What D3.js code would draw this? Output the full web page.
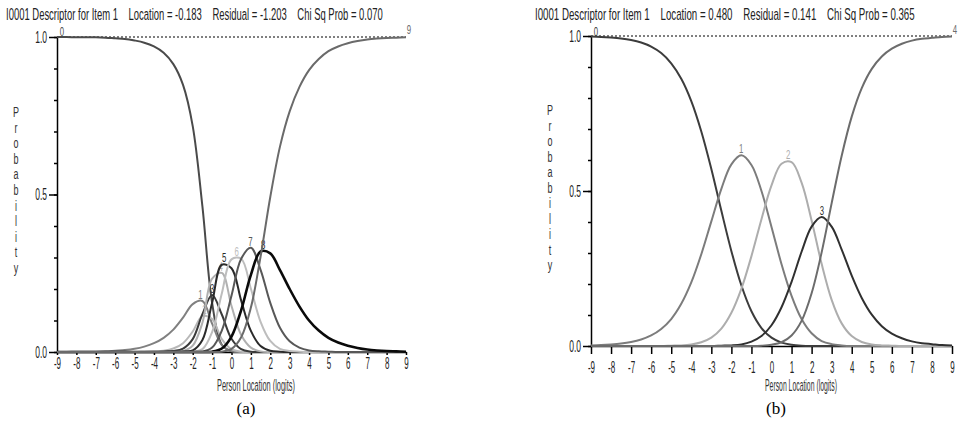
<!DOCTYPE html>
<html>
<head>
<meta charset="utf-8">
<script src="https://cdn.jsdelivr.net/npm/d3@7"></script>
<style>
  body { margin: 0; background: #fff; }
  text { font-family: "Liberation Sans", Arial, sans-serif; }
</style>
</head>
<body>
<div id="chart"></div>
<script>
// person location grid (logits)
var theta = [-9,-8.5,-8,-7.5,-7,-6.5,-6,-5.5,-5,-4.5,-4,-3.5,-3,-2.5,-2,-1.5,-1,-0.5,0,
             0.5,1,1.5,2,2.5,3,3.5,4,4.5,5,5.5,6,6.5,7,7.5,8,8.5,9];
var xTicks = [-9,-8,-7,-6,-5,-4,-3,-2,-1,0,1,2,3,4,5,6,7,8,9];
var yMinor = [0,0.1,0.2,0.3,0.4,0.5,0.6,0.7,0.8,0.9,1];
var yMajor = [0,0.5,1];

// (a) category probabilities, categories 0..9
var catsA = ["0","1","2","3","4","5","6","7","8","9"];
var a0 = [1,1,0.999,0.999,0.999,0.998,0.996,0.994,0.989,0.982,0.970,0.950,0.914,0.848,0.717,0.462,0.156,0.023,0.002,0,0,0,0,0,0,0,0,0,0,0,0,0,0,0,0,0,0];
var a1 = [0,0,0.001,0.001,0.001,0.002,0.004,0.006,0.010,0.017,0.028,0.045,0.071,0.109,0.152,0.162,0.090,0.022,0.003,0,0,0,0,0,0,0,0,0,0,0,0,0,0,0,0,0,0];
var a2 = [0,0,0,0,0,0,0,0,0,0.001,0.002,0.004,0.011,0.028,0.065,0.114,0.105,0.041,0.009,0.001,0,0,0,0,0,0,0,0,0,0,0,0,0,0,0,0,0];
var a3 = [0,0,0,0,0,0,0,0,0,0,0,0.001,0.003,0.011,0.041,0.120,0.181,0.119,0.042,0.009,0.001,0,0,0,0,0,0,0,0,0,0,0,0,0,0,0,0];
var a4 = [0,0,0,0,0,0,0,0,0,0,0,0,0.001,0.003,0.020,0.093,0.233,0.251,0.146,0.054,0.014,0.002,0,0,0,0,0,0,0,0,0,0,0,0,0,0,0];
var a5 = [0,0,0,0,0,0,0,0,0,0,0,0,0,0.001,0.005,0.038,0.156,0.277,0.266,0.163,0.067,0.019,0.004,0.001,0,0,0,0,0,0,0,0,0,0,0,0,0];
var a6 = [0,0,0,0,0,0,0,0,0,0,0,0,0,0,0.001,0.009,0.063,0.186,0.294,0.296,0.201,0.096,0.035,0.010,0.003,0.001,0,0,0,0,0,0,0,0,0,0,0];
var a7 = [0,0,0,0,0,0,0,0,0,0,0,0,0,0,0,0.001,0.014,0.068,0.179,0.296,0.331,0.261,0.156,0.077,0.034,0.014,0.005,0.002,0.001,0,0,0,0,0,0,0,0];
var a8 = [0,0,0,0,0,0,0,0,0,0,0,0,0,0,0,0,0.001,0.011,0.049,0.133,0.245,0.319,0.313,0.260,0.200,0.145,0.100,0.068,0.045,0.030,0.020,0.013,0.008,0.005,0.003,0.002,0.001];
var a9 = [0,0,0,0,0,0,0,0,0,0,0,0,0,0,0,0,0,0.001,0.010,0.047,0.141,0.303,0.492,0.652,0.764,0.841,0.895,0.930,0.955,0.970,0.980,0.987,0.992,0.995,0.997,0.998,0.999];

// (b) category probabilities, categories 0..4
var catsB = ["0","1","2","3","4"];
var b0 = [0.998,0.997,0.995,0.992,0.987,0.979,0.966,0.945,0.912,0.862,0.790,0.692,0.571,0.436,0.306,0.195,0.112,0.058,0.027,0.011,0.004,0.001,0,0,0,0,0,0,0,0,0,0,0,0,0,0,0];
var b1 = [0.002,0.003,0.005,0.008,0.013,0.021,0.034,0.055,0.087,0.136,0.205,0.296,0.402,0.507,0.586,0.615,0.584,0.500,0.384,0.264,0.162,0.087,0.041,0.016,0.006,0.002,0,0,0,0,0,0,0,0,0,0,0];
var b2 = [0,0,0,0,0,0,0,0,0.001,0.002,0.005,0.012,0.027,0.056,0.107,0.185,0.290,0.409,0.518,0.588,0.593,0.527,0.405,0.265,0.149,0.073,0.032,0.013,0.005,0.002,0.001,0,0,0,0,0,0];
var b3 = [0,0,0,0,0,0,0,0,0,0,0,0,0,0.001,0.002,0.005,0.014,0.032,0.067,0.125,0.207,0.304,0.385,0.416,0.385,0.311,0.227,0.155,0.101,0.064,0.040,0.025,0.015,0.009,0.006,0.003,0.002];
var b4 = [0,0,0,0,0,0,0,0,0,0,0,0,0,0,0,0,0,0.001,0.004,0.012,0.034,0.081,0.170,0.302,0.461,0.614,0.740,0.832,0.894,0.934,0.959,0.975,0.985,0.991,0.994,0.997,0.998];

var svg = d3.select("#chart")
    .append("svg")
    .attr("width", 960)
    .attr("height", 423);

// squeeze a text horizontally so it spans w pixels
function fit(sel, x, y, w) {
  var nat = sel.node().getComputedTextLength();
  sel.attr("transform", "translate(" + x + "," + y + ") scale(" + (w / nat) + ",1)");
}

var panels = [
  { title: "I0001 Descriptor for Item 1    Location = -0.183    Residual = -1.203    Chi Sq Prob = 0.070",
    titleX: 6, titleW: 377,
    series: [a0,a1,a2,a3,a4,a5,a6,a7,a8,a9], cats: catsA,
    colors: ["#4a4a4a","#808080","#b8b8b8","#3a3a3a","#b0b0b0","#2a2a2a","#bdbdbd","#585858","#0a0a0a","#6a6a6a"],
    x: d3.scaleLinear().domain([-9, 9]).range([57, 406]),
    y: d3.scaleLinear().domain([0, 1]).range([352, 37]),
    tickLen: 3, tickDy: 6,
    letterX: 16, letterY: 117, letterStep: 15.6,
    xtitleX: 217, xtitleW: 78, caption: "(a)", captionX: 246 },
  { title: "I0001 Descriptor for Item 1    Location = 0.480    Residual = 0.141    Chi Sq Prob = 0.365",
    titleX: 535, titleW: 380,
    series: [b0,b1,b2,b3,b4], cats: catsB,
    colors: ["#3c3c3c","#7c7c7c","#adadad","#303030","#6c6c6c"],
    x: d3.scaleLinear().domain([-9, 9]).range([591, 952]),
    y: d3.scaleLinear().domain([0, 1]).range([346, 36]),
    tickLen: 8, tickDy: 16,
    letterX: 550, letterY: 115, letterStep: 15.5,
    xtitleX: 765, xtitleW: 72, caption: "(b)", captionX: 776 }
];

panels.forEach(function(p) {
  var g = svg.append("g");
  var x = p.x, y = p.y;

  var title = g.append("text")
      .style("font-size", "17px")
      .style("white-space", "pre")
      .attr("fill", "#222")
      .text(p.title);
  fit(title, p.titleX, 20, p.titleW);

  // y axis: minor ticks + labelled ticks
  g.append("g")
      .attr("transform", "translate(" + x(-9) + ",0)")
      .call(d3.axisLeft(y).tickValues(yMinor).tickSize(3).tickSizeOuter(0).tickFormat(""));
  var yMaj = g.append("g")
      .attr("transform", "translate(" + x(-9) + ",0)")
      .call(d3.axisLeft(y).tickValues(yMajor).tickSize(8).tickFormat(d3.format(".1f")));
  yMaj.select(".domain").remove();
  yMaj.selectAll("text")
      .attr("x", -20)
      .attr("transform", "scale(0.5,1)")
      .style("font-size", "17px")
      .style("font-family", '"Liberation Sans", Arial, sans-serif')
      .attr("fill", "#222");

  // x axis
  var xAx = g.append("g")
      .attr("transform", "translate(0," + y(0) + ")")
      .call(d3.axisBottom(x).tickValues(xTicks).tickSize(p.tickLen).tickSizeOuter(0)
        .tickFormat(function(d) { return String(d); }));
  xAx.selectAll("text")
      .attr("y", p.tickDy)
      .attr("transform", "scale(0.5,1)")
      .style("font-size", "16px")
      .style("font-family", '"Liberation Sans", Arial, sans-serif')
      .attr("fill", "#222");

  g.selectAll(".domain, .tick line").attr("stroke", "#000").attr("stroke-width", 1.5);

  // dotted line at probability 1
  g.append("line")
      .attr("x1", x(-9)).attr("x2", x(9))
      .attr("y1", y(1)).attr("y2", y(1))
      .attr("stroke", "#000")
      .attr("stroke-width", 1)
      .attr("stroke-dasharray", "2,2");

  var line = d3.line()
      .x(function(d, i) { return x(theta[i]); })
      .y(function(d) { return y(d); })
      .curve(d3.curveCatmullRom.alpha(0.5));

  var n = p.series.length;
  p.series.forEach(function(s, k) {
    var path = g.append("path")
        .attr("d", line(s))
        .attr("fill", "none")
        .attr("stroke", p.colors[k])
        .attr("stroke-width", k == 8 ? 2.6 : 2);

    // category label at the top of its curve
    var node = path.node(), len = node.getTotalLength(), pt, lx, ly;
    if (k == 0) {
      pt = node.getPointAtLength(0); lx = pt.x + 5; ly = pt.y - 1;
    } else if (k == n - 1) {
      pt = node.getPointAtLength(len); lx = pt.x + 3; ly = pt.y - 3;
    } else {
      pt = node.getPointAtLength(0);
      for (var t = 0; t <= len; t += 0.5) {
        var q = node.getPointAtLength(t);
        if (q.y < pt.y) pt = q;
      }
      lx = pt.x; ly = pt.y - 2;
    }
    g.append("text")
        .attr("transform", "translate(" + lx + "," + ly + ") scale(0.6,1)")
        .attr("text-anchor", "middle")
        .style("font-size", "13px")
        .attr("fill", p.colors[k])
        .text(p.cats[k]);
  });

  // stacked axis title
  g.selectAll(".ylet")
    .data("Probability".split(""))
    .enter()
    .append("text")
      .attr("class", "ylet")
      .attr("transform", function(d, i) {
        return "translate(" + p.letterX + "," + (p.letterY + i * p.letterStep) + ") scale(0.6,1)";
      })
      .attr("text-anchor", "middle")
      .style("font-size", "15px")
      .attr("fill", "#333")
      .text(function(d) { return d; });

  var xt = g.append("text")
      .style("font-size", "16px")
      .attr("fill", "#333")
      .text("Person Location (logits)");
  fit(xt, p.xtitleX, 391, p.xtitleW);

  g.append("text")
      .attr("x", p.captionX)
      .attr("y", 414)
      .attr("text-anchor", "middle")
      .style("font-family", '"Liberation Serif", "Times New Roman", serif')
      .style("font-size", "17px")
      .attr("fill", "#000")
      .text(p.caption);
});
</script>
</body>
</html>
